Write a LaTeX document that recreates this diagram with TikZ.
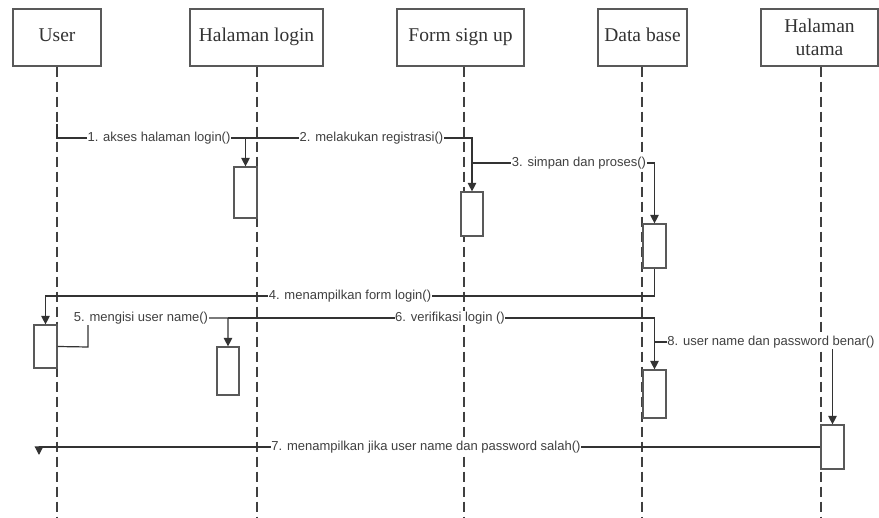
\documentclass[tikz,border=0pt]{standalone}
\usepackage{fontspec}
\setmainfont{Liberation Serif}
\setsansfont{Liberation Sans}
\usetikzlibrary{arrows.meta}
\begin{document}
\begin{tikzpicture}[x=1pt,y=-1pt,
  head/.style={draw=black!65, line width=1.2pt, fill=white, minimum height=57pt,
    inner sep=0pt, font=\fontsize{19.5}{23}\selectfont, text=black!80},
  oneline/.style={text height=13.5pt, text depth=4.5pt},
  lifeline/.style={draw=black!75, line width=1.2pt, dash pattern=on 10pt off 5pt},
  act/.style={draw=black!65, line width=1.2pt, fill=white, minimum width=23pt, inner sep=0pt},
  msg/.style={draw=black!80, line width=1.2pt},
  tip/.style={-{Triangle[length=8.5pt,width=8.5pt]}},
  lbl/.style={fill=white, inner sep=0.6pt, text=black!75,
    font=\sffamily\fontsize{13}{15}\selectfont}]
\useasboundingbox (0,0) rectangle (879,518);

% lifeline heads
\node[head, oneline, minimum width=88pt]  (user)   at (57,37.5)    {User};
\node[head, oneline, minimum width=133pt] (login)  at (256.5,37.5) {Halaman login};
\node[head, oneline, minimum width=127pt] (signup) at (460.5,37.5) {Form sign up};
\node[head, oneline, minimum width=89pt]  (db)     at (642.5,37.5) {Data base};
\node[head, minimum width=117pt, align=center] (utama) at (819.5,37.5) {Halaman\\utama};

% lifeline ends
\coordinate (userEnd)   at (57,518);
\coordinate (loginEnd)  at (257,518);
\coordinate (signupEnd) at (464,518);
\coordinate (dbEnd)     at (642,518);
\coordinate (utamaEnd)  at (821,518);

\draw[lifeline] (user.south -| userEnd)     -- (userEnd);
\draw[lifeline] (login.south -| loginEnd)   -- (loginEnd);
\draw[lifeline] (signup.south -| signupEnd) -- (signupEnd);
\draw[lifeline] (db.south -| dbEnd)         -- (dbEnd);
\draw[lifeline] (utama.south -| utamaEnd)   -- (utamaEnd);

% activation bars
\node[act, minimum height=51pt]                     (a1) at (245.5,192.5) {};
\node[act, minimum height=44pt, minimum width=22pt] (a2) at (472,214)     {};
\node[act, minimum height=44pt]                     (a3) at (654.5,246)   {};
\node[act, minimum height=43pt]                     (a4) at (45.5,346.5)  {};
\node[act, minimum height=48pt, minimum width=22pt] (a5) at (228,371)     {};
\node[act, minimum height=48pt]                     (a6) at (654.5,394)   {};
\node[act, minimum height=44pt]                     (a7) at (832.5,447)   {};

% message bend points
\coordinate (m1s) at (57,124);
\coordinate (m1h) at (57,138);
\coordinate (m2s) at (245.5,138);
\coordinate (m2h) at (472,138);
\coordinate (m3s) at (472,163);
\coordinate (m3h) at (654.5,163);
\coordinate (m4h) at (654.5,296);
\coordinate (m5a) at (88,347);
\coordinate (m5b) at (88,318);
\coordinate (m6s) at (228,318);
\coordinate (m8s) at (654.5,342);
\coordinate (m7h) at (39,447);
\coordinate (m7e) at (39,455);

% messages
\draw[msg,tip] (m1s) -- (m1h) -| (a1.north);
\draw[msg,tip] (m2s) -- (m2h) -- (a2.north);
\draw[msg,tip] (m3s) -- (m3h) -- (a3.north);
\draw[msg,tip] (a3.south) -- (m4h) -| (a4.north);
\draw[msg,tip] (a4.east) -- (m5a) -- (m5b) -| (a5.north);
\draw[msg,tip] (m6s) -| (a6.north);
\draw[msg,tip] (m8s) -| (a7.north);
\draw[msg,tip] (a7.west) -- (m7h) -- (m7e);

% message labels
\node[lbl] (l1) at (159,138)   {1. akses halaman login()};
\node[lbl] (l2) at (371.5,138) {2. melakukan registrasi()};
\node[lbl] (l3) at (579,163)   {3. simpan dan proses()};
\node[lbl] (l4) at (350,296)   {4. menampilkan form login()};
\node[lbl] (l5) at (141,318)   {5. mengisi user name()};
\node[lbl] (l6) at (450,318)   {6. verifikasi login ()};
\node[lbl] (l8) at (771,342)   {8. user name dan password benar()};
\node[lbl] (l7) at (426,447)   {7. menampilkan jika user name dan password salah()};
\end{tikzpicture}
\end{document}
